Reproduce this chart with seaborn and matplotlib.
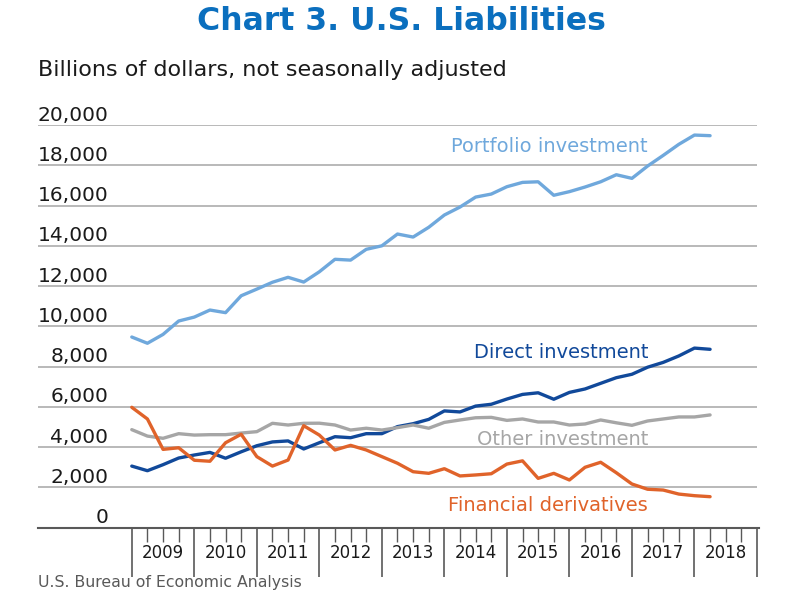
import numpy as np
import pandas as pd
import seaborn as sns
import matplotlib
matplotlib.use("Agg")
import matplotlib.pyplot as plt
from matplotlib.transforms import blended_transform_factory

# ---------------- data (billions of dollars, quarterly 2009Q1-2018Q2) ----------------
years = [2009, 2010, 2011, 2012, 2013, 2014, 2015, 2016, 2017, 2018]
quarters = [f"{y}Q{q}" for y in years for q in range(1, 5)][:38]

portfolio = [9470, 9160, 9600, 10265, 10460, 10810, 10680, 11520, 11850, 12190,
             12435, 12200, 12710, 13330, 13290, 13825, 14000, 14585, 14435, 14920,
             15530, 15925, 16420, 16570, 16935, 17150, 17180, 16510, 16690, 16920,
             17180, 17530, 17350, 17960, 18490, 19040, 19500, 19470]
direct = [3060, 2830, 3130, 3460, 3610, 3740, 3450, 3770, 4070, 4260,
          4310, 3910, 4220, 4520, 4470, 4670, 4670, 5020, 5165, 5380,
          5800, 5750, 6040, 6130, 6390, 6620, 6700, 6380, 6720, 6890,
          7170, 7450, 7620, 7970, 8210, 8530, 8920, 8860]
other = [4870, 4550, 4440, 4670, 4600, 4620, 4620, 4700, 4770, 5185,
         5100, 5185, 5190, 5100, 4850, 4940, 4850, 4970, 5100, 4940,
         5230, 5350, 5460, 5480, 5330, 5400, 5250, 5250, 5100, 5150,
         5350, 5210, 5085, 5300, 5400, 5500, 5500, 5600]
derivatives = [5980, 5400, 3890, 3970, 3350, 3300, 4220, 4640, 3530, 3060,
               3360, 5065, 4600, 3860, 4090, 3860, 3530, 3200, 2780, 2700,
               2930, 2570, 2620, 2680, 3160, 3320, 2450, 2700, 2370, 3000,
               3250, 2730, 2170, 1910, 1870, 1670, 1590, 1540]

series_names = ["Portfolio investment", "Direct investment", "Other investment", "Financial derivatives"]
y_ticks = [0, 2000, 4000, 6000, 8000, 10000, 12000, 14000, 16000, 18000, 20000]
year_labels = [str(y) for y in years]

colors = {
    "Portfolio investment": "#6fa8dc",
    "Direct investment": "#11499a",
    "Other investment": "#a6a6a6",
    "Financial derivatives": "#e0632a",
}

rows = []
for name, vals in zip(series_names, [portfolio, direct, other, derivatives]):
    for i, (q, v) in enumerate(zip(quarters, vals)):
        rows.append({"idx": i, "quarter": q, "series": name, "value": v})
df = pd.DataFrame(rows)

# ---------------- figure ----------------
sns.set_theme(style="white")
FONT = ["DejaVu Sans"]
plt.rcParams["font.family"] = FONT

W, H = 801, 601
fig = plt.figure(figsize=(W / 100, H / 100), dpi=100)
ax_left, ax_right, ax_top, ax_bottom = 38, 759, 125, 527.7
ax = fig.add_axes([ax_left / W, 1 - ax_bottom / H, (ax_right - ax_left) / W, (ax_bottom - ax_top) / H])

# gridlines (behind the lines)
for t in y_ticks[1:]:
    ax.hlines(t, -6, 40, color="#b3b3b3", lw=1.3, zorder=0)

sns.lineplot(data=df, x="idx", y="value", hue="series", palette=colors,
             hue_order=series_names, lw=2.4, legend=False, ax=ax,
             solid_capstyle="round", zorder=3)

ax.set_xlim(-6, 40.13)
ax.set_ylim(0, 20000)
ax.set_xlabel("")
ax.set_ylabel("")

for s in ["top", "right", "left"]:
    ax.spines[s].set_visible(False)
ax.spines["bottom"].set_color("#595959")
ax.spines["bottom"].set_linewidth(1.5)

# y tick labels drawn above each gridline
ax.set_yticks([])
for t in y_ticks:
    ax.annotate(f"{t:,}", xy=(-1.5, t), xycoords="data", xytext=(0, 3.2),
                textcoords="offset points", ha="right", va="baseline",
                fontsize=14.5, color="#1a1a1a")

# x ticks: year dividers (major) and quarter ticks (minor)
major = list(range(0, 41, 4))
minor = [i for i in range(0, 41) if i % 4 != 0]
ax.set_xticks(major)
ax.set_xticklabels([""] * len(major))
ax.set_xticks(minor, minor=True)
ax.tick_params(axis="x", which="major", length=35, width=1.2, color="#595959", direction="out", bottom=True)
ax.tick_params(axis="x", which="minor", length=10, width=1.0, color="#595959", direction="out", bottom=True)

trans = blended_transform_factory(ax.transData, fig.transFigure)
for k, lab in enumerate(year_labels):
    ax.text(4 * k + 2, 1 - 553 / H, lab, transform=trans, ha="center", va="center",
            fontsize=12, color="#1a1a1a")

# series labels
label_pos = {
    "Portfolio investment": 18955,
    "Direct investment": 8725,
    "Other investment": 4405,
    "Financial derivatives": 1127,
}
for name in series_names:
    ax.text(33.03, label_pos[name], name, ha="right", va="center", fontsize=14,
            color=colors[name])

# title, subtitle, source
fig.text(401 / W, 1 - 22 / H, "Chart 3. U.S. Liabilities", ha="center", va="center",
         fontsize=22.7, fontweight="bold", color="#0b6fbe")
fig.text(38 / W, 1 - 70 / H, "Billions of dollars, not seasonally adjusted", ha="left",
         va="center", fontsize=16, color="#1a1a1a")
fig.text(38 / W, 1 - 583 / H, "U.S. Bureau of Economic Analysis", ha="left", va="center",
         fontsize=11.3, color="#595959")

fig.savefig("out.png", dpi=100)
